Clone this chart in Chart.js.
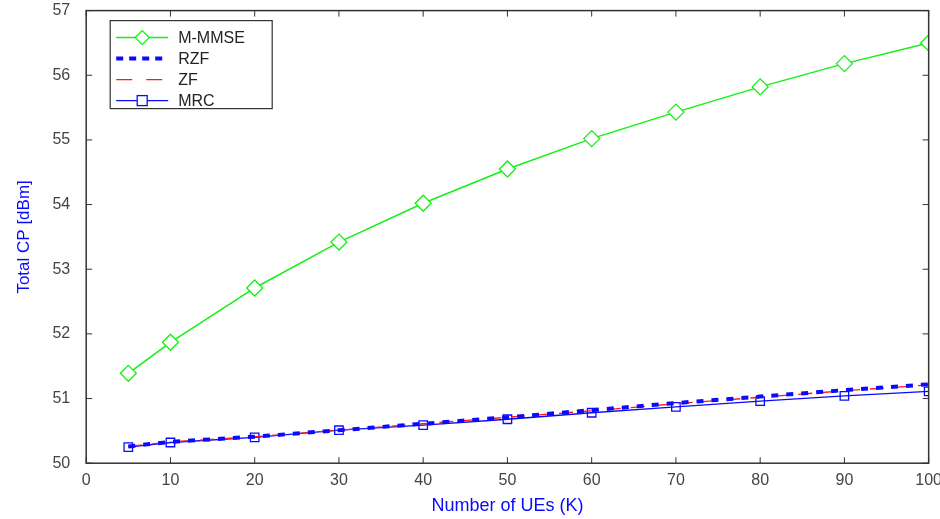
<!DOCTYPE html>
<html>
<head>
<meta charset="utf-8">
<script src="https://cdn.jsdelivr.net/npm/chart.js@4"></script>
<style>
  body { margin: 0; background: #fff; overflow: hidden; }
  #wrap { width: 940px; height: 519px; overflow: hidden; }
  #cpChart { display: block; margin-top: -7px; }
</style>
</head>
<body>
<div id="wrap"><canvas id="cpChart" width="942" height="526"></canvas></div>
<script>
const numUEs = [5, 10, 20, 30, 40, 50, 60, 70, 80, 90, 100];
const mmse = [51.39, 51.87, 52.71, 53.42, 54.02, 54.55, 55.02, 55.43, 55.82, 56.18, 56.50];
const rzf  = [50.26, 50.33, 50.41, 50.51, 50.61, 50.71, 50.82, 50.93, 51.03, 51.13, 51.22];
const zf   = [50.26, 50.33, 50.41, 50.51, 50.61, 50.71, 50.81, 50.92, 51.02, 51.12, 51.21];
const mrc  = [50.25, 50.32, 50.40, 50.51, 50.59, 50.68, 50.78, 50.87, 50.96, 51.04, 51.11];
const xTicks = [0, 10, 20, 30, 40, 50, 60, 70, 80, 90, 100];
const yTicks = [50, 51, 52, 53, 54, 55, 56, 57];

const green = '#14f014';
const blue = '#0a0aff';
const red = '#ff1a1a';
const fontFam = '"Liberation Sans", Arial, sans-serif';

function toPoints(vals) {
    return numUEs.map((k, i) => ({ x: k, y: vals[i] }));
}

// box round the plot, with inward tick marks like the original figure
const framePlugin = {
    id: 'frame',
    afterDatasetsDraw(chart) {
        const ctx = chart.ctx;
        const a = chart.chartArea;
        const xs = chart.scales.x, ys = chart.scales.y;
        ctx.save();
        ctx.strokeStyle = '#333';
        ctx.lineWidth = 1.5;
        ctx.strokeRect(a.left, a.top, a.right - a.left, a.bottom - a.top);
        ctx.lineWidth = 1;
        xTicks.forEach(t => {
            const px = xs.getPixelForValue(t);
            ctx.beginPath(); ctx.moveTo(px, a.bottom); ctx.lineTo(px, a.bottom - 6); ctx.stroke();
            ctx.beginPath(); ctx.moveTo(px, a.top); ctx.lineTo(px, a.top + 6); ctx.stroke();
        });
        yTicks.forEach(t => {
            const py = ys.getPixelForValue(t);
            ctx.beginPath(); ctx.moveTo(a.left, py); ctx.lineTo(a.left + 6, py); ctx.stroke();
            ctx.beginPath(); ctx.moveTo(a.right, py); ctx.lineTo(a.right - 6, py); ctx.stroke();
        });

        // legend box
        const lx = a.left + 24, ly = a.top + 10, lw = 162, lh = 88;
        ctx.fillStyle = '#fff';
        ctx.fillRect(lx, ly, lw, lh);
        ctx.strokeStyle = '#333';
        ctx.lineWidth = 1.2;
        ctx.strokeRect(lx, ly, lw, lh);
        ctx.font = '16px ' + fontFam;
        ctx.textBaseline = 'middle';
        chart.data.datasets.forEach((ds, i) => {
            const y = ly + 17 + i * 21;
            const x0 = lx + 6, x1 = lx + 58, xm = (x0 + x1) / 2;
            ctx.strokeStyle = ds.borderColor;
            ctx.lineWidth = ds.borderWidth;
            ctx.setLineDash(ds.legendDash || ds.borderDash || []);
            ctx.beginPath(); ctx.moveTo(x0, y); ctx.lineTo(x1, y); ctx.stroke();
            ctx.setLineDash([]);
            ctx.lineWidth = 1.3;
            if (ds.pointStyle === 'rectRot') {
                ctx.fillStyle = '#fff';
                ctx.beginPath();
                ctx.moveTo(xm, y - 7); ctx.lineTo(xm + 7, y); ctx.lineTo(xm, y + 7); ctx.lineTo(xm - 7, y); ctx.closePath();
                ctx.fill(); ctx.stroke();
            } else if (ds.pointStyle === 'rect' && ds.pointRadius > 0) {
                ctx.fillStyle = '#fff';
                ctx.fillRect(xm - 5, y - 5, 10, 10);
                ctx.strokeRect(xm - 5, y - 5, 10, 10);
            }
            ctx.fillStyle = '#222';
            ctx.fillText(ds.label, lx + 68, y + 1);
        });
        ctx.restore();
    }
};

new Chart(document.getElementById('cpChart'), {
    type: 'line',
    data: {
        datasets: [
            {
                label: 'M-MMSE',
                data: toPoints(mmse),
                borderColor: green,
                backgroundColor: '#fff',
                borderWidth: 1.5,
                pointStyle: 'rectRot',
                pointRadius: 8,
                pointBorderWidth: 1.3,
                tension: 0
            },
            {
                label: 'RZF',
                data: toPoints(rzf),
                borderColor: blue,
                borderWidth: 4,
                borderDash: [7, 8],
                legendDash: [7, 6],
                pointRadius: 0,
                pointStyle: 'rect',
                tension: 0
            },
            {
                label: 'ZF',
                data: toPoints(zf),
                borderColor: red,
                borderWidth: 1.3,
                borderDash: [14, 10],
                legendDash: [16, 14],
                pointRadius: 0,
                pointStyle: 'line',
                tension: 0
            },
            {
                label: 'MRC',
                data: toPoints(mrc),
                borderColor: blue,
                backgroundColor: 'rgba(255,255,255,0)',
                borderWidth: 1.3,
                pointStyle: 'rect',
                pointRadius: 6,
                pointBorderWidth: 1.3,
                tension: 0
            }
        ]
    },
    options: {
        responsive: false,
        animation: false,
        layout: { padding: { left: 14, right: 2, top: 0, bottom: 0 } },
        plugins: {
            legend: { display: false },
            tooltip: { enabled: false }
        },
        scales: {
            x: {
                type: 'linear',
                min: 0,
                max: 100,
                afterBuildTicks: axis => { axis.ticks = xTicks.map(v => ({ value: v })); },
                grid: { display: false },
                border: { display: false },
                ticks: {
                    color: '#444',
                    font: { family: fontFam, size: 16 },
                    padding: 0
                },
                title: {
                    display: true,
                    text: 'Number of UEs (K)',
                    color: blue,
                    font: { family: fontFam, size: 18 },
                    padding: { top: 5, bottom: 2 }
                }
            },
            y: {
                type: 'linear',
                min: 50,
                max: 57,
                afterBuildTicks: axis => { axis.ticks = yTicks.map(v => ({ value: v })); },
                grid: { display: false },
                border: { display: false },
                ticks: {
                    color: '#444',
                    font: { family: fontFam, size: 16 },
                    padding: 8
                },
                title: {
                    display: true,
                    text: 'Total CP [dBm]',
                    color: blue,
                    font: { family: fontFam, size: 17 },
                    padding: { top: 0, bottom: 10 }
                }
            }
        }
    },
    plugins: [framePlugin]
});
</script>
</body>
</html>
